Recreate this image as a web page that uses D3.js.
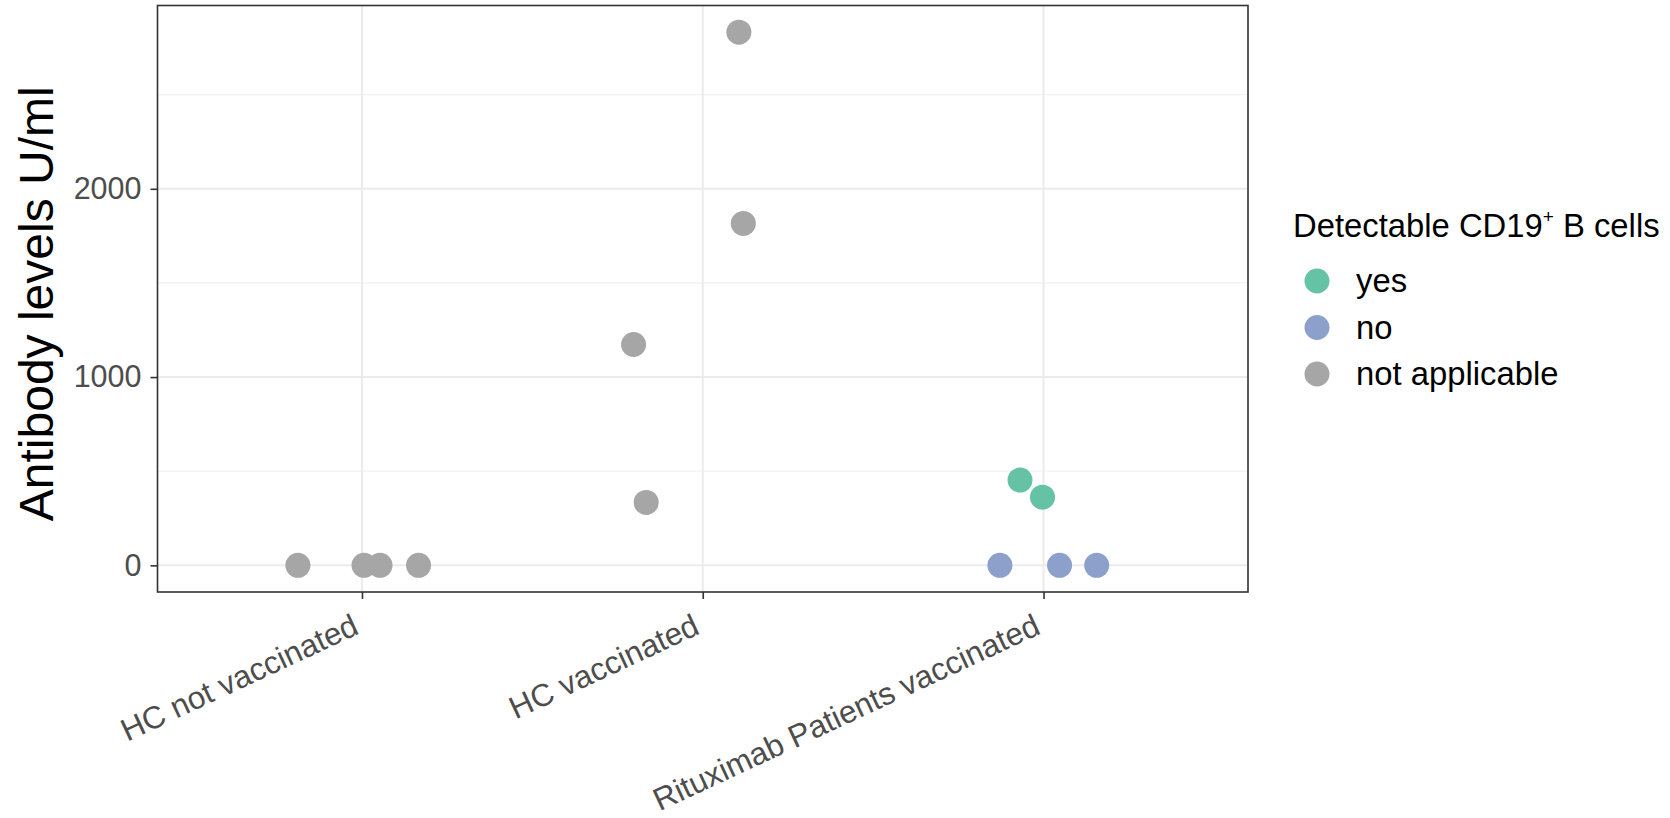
<!DOCTYPE html>
<html>
<head>
<meta charset="utf-8">
<script src="https://cdn.jsdelivr.net/npm/d3@7"></script>
<style>
  html, body { margin: 0; padding: 0; background: #fff; }
  svg { display: block; font-family: "Liberation Sans", Arial, sans-serif; }
</style>
</head>
<body>
<svg id="chart" width="1670" height="818"></svg>
<script>
// Groups on the x axis
const groups = ["HC not vaccinated", "HC vaccinated", "Rituximab Patients vaccinated"];

// One entry per subject: group, antibody level (U/ml), B-cell status, horizontal jitter (in category units)
const pointGroup  = ["HC not vaccinated", "HC not vaccinated", "HC not vaccinated", "HC not vaccinated",
                     "HC vaccinated", "HC vaccinated", "HC vaccinated", "HC vaccinated",
                     "Rituximab Patients vaccinated", "Rituximab Patients vaccinated",
                     "Rituximab Patients vaccinated", "Rituximab Patients vaccinated", "Rituximab Patients vaccinated"];
const pointLevel  = [0, 0, 0, 0,
                     2832, 1816, 1173, 334,
                     453, 362,
                     0, 0, 0];
const pointStatus = ["not applicable", "not applicable", "not applicable", "not applicable",
                     "not applicable", "not applicable", "not applicable", "not applicable",
                     "yes", "yes",
                     "no", "no", "no"];
const pointJitter = [-0.188, 0.006, 0.053, 0.166,
                     0.106, 0.119, -0.203, -0.166,
                     -0.069, -0.003,
                     -0.128, 0.047, 0.156];

// Legend
const statusLevels = ["yes", "no", "not applicable"];
const statusColors = ["#66c2a5", "#8da0cb", "#a6a6a6"];

// Axis ticks
const yMajorTicks = [0, 1000, 2000];
const yMinorTicks = [500, 1500, 2500];

// ---- layout ----
const panel = { left: 157.5, right: 1248, top: 5.5, bottom: 592 };
const svg = d3.select("#chart");

// continuous y with 5% expansion on each side
const yMax = d3.max(pointLevel), yMin = d3.min(pointLevel);
const yPad = (yMax - yMin) * 0.05;
const y = d3.scaleLinear().domain([yMin - yPad, yMax + yPad]).range([panel.bottom, panel.top]);

// discrete x: categories at 1..n with 0.6 expansion each side
const x = d3.scaleLinear().domain([0.4, groups.length + 0.6]).range([panel.left, panel.right]);
const gx = g => groups.indexOf(g) + 1;

const color = d3.scaleOrdinal().domain(statusLevels).range(statusColors);

// panel background
svg.append("rect")
  .attr("x", panel.left).attr("y", panel.top)
  .attr("width", panel.right - panel.left).attr("height", panel.bottom - panel.top)
  .attr("fill", "#fff");

// grid lines
const grid = svg.append("g");
grid.selectAll(".minor").data(yMinorTicks).join("line")
  .attr("x1", panel.left).attr("x2", panel.right)
  .attr("y1", d => y(d)).attr("y2", d => y(d))
  .attr("stroke", "#f2f2f2").attr("stroke-width", 1.2);
grid.selectAll(".major").data(yMajorTicks).join("line")
  .attr("x1", panel.left).attr("x2", panel.right)
  .attr("y1", d => y(d)).attr("y2", d => y(d))
  .attr("stroke", "#ebebeb").attr("stroke-width", 2);
grid.selectAll(".vmajor").data(groups).join("line")
  .attr("x1", d => x(gx(d))).attr("x2", d => x(gx(d)))
  .attr("y1", panel.top).attr("y2", panel.bottom)
  .attr("stroke", "#ebebeb").attr("stroke-width", 2);

// points
svg.append("g").selectAll("circle")
  .data(pointLevel.map((v, i) => ({ g: pointGroup[i], v, s: pointStatus[i], j: pointJitter[i] })))
  .join("circle")
  .attr("cx", d => x(gx(d.g) + d.j))
  .attr("cy", d => y(d.v))
  .attr("r", 12.5)
  .attr("fill", d => color(d.s));

// panel border
svg.append("rect")
  .attr("x", panel.left).attr("y", panel.top)
  .attr("width", panel.right - panel.left).attr("height", panel.bottom - panel.top)
  .attr("fill", "none").attr("stroke", "#333").attr("stroke-width", 1.6);

// y axis
const yAxis = d3.axisLeft(y).tickValues(yMajorTicks).tickSize(7).tickPadding(9).tickFormat(d3.format("d"));
const yg = svg.append("g").attr("transform", `translate(${panel.left},0)`).call(yAxis);
yg.select(".domain").remove();
yg.selectAll(".tick line").attr("stroke", "#333").attr("stroke-width", 1.6);
yg.selectAll(".tick text").attr("fill", "#4d4d4d").attr("font-size", 30.5)
  .attr("font-family", "Liberation Sans, Arial, sans-serif");

// x axis
const xAxis = d3.axisBottom(x).tickValues(groups.map(gx)).tickSize(7).tickFormat(i => groups[i - 1]);
const xg = svg.append("g").attr("transform", `translate(0,${panel.bottom})`).call(xAxis);
xg.select(".domain").remove();
xg.selectAll(".tick line").attr("stroke", "#333").attr("stroke-width", 1.6);
xg.selectAll(".tick text")
  .attr("fill", "#4d4d4d").attr("font-size", 31.5)
  .attr("font-family", "Liberation Sans, Arial, sans-serif")
  .attr("text-anchor", "end")
  .attr("dy", null).attr("y", null)
  .attr("transform", "translate(-2,41) rotate(-25)");

// y title
svg.append("text")
  .attr("transform", `translate(53,${(panel.top + panel.bottom) / 2 + 5}) rotate(-90)`)
  .attr("text-anchor", "middle")
  .attr("font-size", 48).attr("fill", "#000")
  .text("Antibody levels U/ml");

// legend
const legend = svg.append("g").attr("transform", "translate(1293,0)");
const title = legend.append("text").attr("x", 0).attr("y", 237).attr("font-size", 32.8).attr("fill", "#000");
title.append("tspan").text("Detectable CD19");
title.append("tspan").text("+").attr("font-size", 19).attr("dy", -14);
title.append("tspan").text(" B cells").attr("dy", 14);

const items = legend.selectAll(".item").data(statusLevels).join("g")
  .attr("transform", (d, i) => `translate(0,${281 + i * 46.5})`);
items.append("circle").attr("cx", 24).attr("cy", 0).attr("r", 12.5).attr("fill", d => color(d));
items.append("text").attr("x", 63).attr("y", 0).attr("dy", "0.35em")
  .attr("font-size", 32.8).attr("fill", "#000").text(d => d);
</script>
</body>
</html>
